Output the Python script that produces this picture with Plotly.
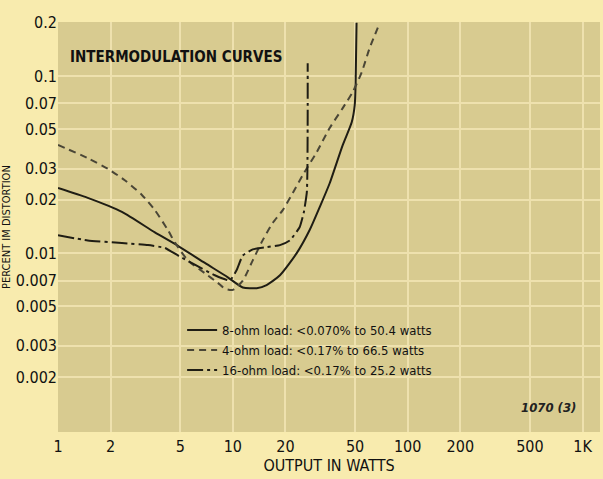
import plotly.graph_objects as go

# ---- data ----
w8 = [1.0, 1.48, 2.32, 3.58, 4.85, 6.92, 9.36, 11.4, 13.7, 15.6, 18.6, 23.2, 27.5, 31.4, 35.8, 42.5, 47.9, 49.8, 50.4, 51.0]
d8 = [0.0233, 0.0205, 0.0171, 0.0131, 0.0110, 0.0088, 0.0073, 0.0064, 0.00634, 0.0066, 0.0075, 0.0100, 0.0135, 0.0182, 0.0248, 0.0407, 0.055, 0.0686, 0.092, 0.2]

w4 = [1.0, 1.48, 1.93, 2.41, 3.02, 3.58, 4.25, 4.66, 5.53, 6.92, 8.2, 9.0, 10.0, 11.4, 13.0, 14.8, 16.9, 19.3, 22.0, 25.1, 30.2, 35.8, 42.5, 48.5, 54.6, 60.6, 69.2]
d4 = [0.0408, 0.0344, 0.0299, 0.0258, 0.0213, 0.0175, 0.0135, 0.0115, 0.0091, 0.0077, 0.0068, 0.0063, 0.0062, 0.0070, 0.0091, 0.0118, 0.0148, 0.0175, 0.0218, 0.0276, 0.0372, 0.0509, 0.0659, 0.0813, 0.105, 0.144, 0.199]

w16 = [1.0, 1.48, 2.32, 3.27, 4.09, 4.85, 6.06, 7.89, 9.6, 10.5, 11.4, 13.0, 15.6, 18.6, 21.2, 24.1, 25.5, 26.5, 26.7, 26.8, 26.8]
d16 = [0.0126, 0.0118, 0.0114, 0.0111, 0.0107, 0.0097, 0.0086, 0.0075, 0.0070, 0.0080, 0.0097, 0.0105, 0.0108, 0.0111, 0.0118, 0.0140, 0.0171, 0.0221, 0.0294, 0.060, 0.118]

names = ["8-ohm load: <0.070% to 50.4 watts",
         "4-ohm load: <0.17% to 66.5 watts",
         "16-ohm load: <0.17% to 25.2 watts"]

xtick_vals = [1, 2, 5, 10, 20, 50, 100, 200, 500, 1000]
xtick_text = ["1", "2", "5", "10", "20", "50", "100", "200", "500", "1K"]
ytick_vals = [0.002, 0.003, 0.005, 0.007, 0.01, 0.02, 0.03, 0.05, 0.07, 0.1, 0.2]
ytick_text = ["0.002", "0.003", "0.005", "0.007", "0.01", "0.02", "0.03", "0.05", "0.07", "0.1", "0.2"]

FONT = "DejaVu Sans Condensed, Liberation Sans Narrow, Arial Narrow, sans-serif"
INK = "#1f1d14"

fig = go.Figure()
fig.add_trace(go.Scatter(x=w8, y=d8, mode="lines", name=names[0],
                         line=dict(color=INK, width=2, shape="spline", smoothing=0.6)))
fig.add_trace(go.Scatter(x=w4, y=d4, mode="lines", name=names[1],
                         line=dict(color="#4a4636", width=2, dash="7px,5px", shape="spline", smoothing=0.6)))
fig.add_trace(go.Scatter(x=w16, y=d16, mode="lines", name=names[2],
                         line=dict(color=INK, width=2, dash="16px,4px,3px,4px", shape="spline", smoothing=0.4)))

fig.update_layout(
    width=603, height=479,
    margin=dict(l=58, r=3, t=22, b=47),
    paper_bgcolor="#f8ebae",
    plot_bgcolor="#d8cb90",
    font=dict(family=FONT, size=15, color="#111"),
    showlegend=True,
    legend=dict(x=0.229, y=0.285, xanchor="left", yanchor="top",
                bgcolor="rgba(0,0,0,0)", borderwidth=0,
                font=dict(family=FONT, size=13, color="#111"),
                tracegroupgap=0, itemwidth=30),
    xaxis=dict(type="log", range=[0, 3.1], tickvals=xtick_vals, ticktext=xtick_text,
               showgrid=True, gridcolor="#eee1ae", gridwidth=2, zeroline=False,
               showline=False, ticks="", tickfont=dict(size=16), ticklabelstandoff=3,
               title=dict(text="OUTPUT IN WATTS", standoff=4, font=dict(size=16))),
    yaxis=dict(type="log", range=[-3.01, -0.695], tickvals=ytick_vals, ticktext=ytick_text,
               showgrid=True, gridcolor="#eee1ae", gridwidth=2, zeroline=False,
               showline=False, ticks="", tickfont=dict(size=16)),
    annotations=[
        dict(text="<b>INTERMODULATION CURVES</b>", xref="paper", yref="paper",
             x=0.018, y=0.915, xanchor="left", yanchor="middle", showarrow=False,
             font=dict(family=FONT, size=15, color="#111")),
        dict(text="<b><i>1070 (3)</i></b>", xref="paper", yref="paper",
             x=0.96, y=0.06, xanchor="right", yanchor="middle", showarrow=False,
             font=dict(family=FONT, size=13, color="#222")),
        dict(text="PERCENT IM DISTORTION", xref="paper", yref="paper",
             x=-0.096, y=0.50, xanchor="center", yanchor="middle", showarrow=False,
             textangle=-90, font=dict(family=FONT, size=11, color="#111")),
    ],
)

fig.write_html("out.html", config={"displayModeBar": False},
               post_script="document.body.style.margin='0';")
